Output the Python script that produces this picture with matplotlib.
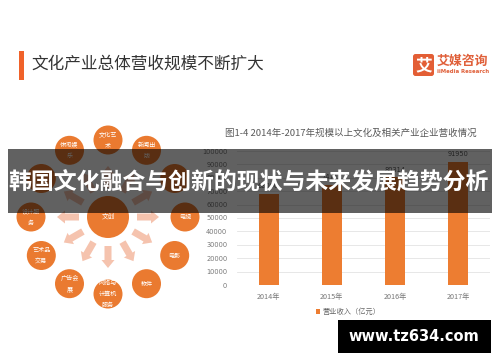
import matplotlib
matplotlib.use("Agg")
import matplotlib.pyplot as plt
from matplotlib.patches import Circle, FancyArrow, Rectangle, FancyBboxPatch
import numpy as np

CJK = ['Noto Sans CJK SC', 'DejaVu Sans']
plt.rcParams['font.family'] = CJK

# ---------------- data ----------------
years = ['2014年', '2015年', '2016年', '2017年']
revenue = [68000, 74711, 80314, 91950]
series_name = '营业收入（亿元）'
yticks = [0, 10000, 20000, 30000, 40000, 50000, 60000, 70000, 80000, 90000, 100000]

page_title = '文化产业总体营收规模不断扩大'
chart_title = '图1-4 2014年-2017年规模以上文化及相关产业企业营收情况'
banner_text = '韩国文化融合与创新的现状与未来发展趋势分析'
watermark = 'www.tz634.com'
center_label = '文创'
ring_labels = ['文化艺\n术', '新闻出\n版', '', '电视', '电影', '软件',
               '网络与\n计算机\n服务', '广告会\n展', '艺术品\n交易', '设计服\n务',
               '', '休闲娱\n乐']
ring_angles = [90, 60, 30, 0, -30, -60, -90, -120, -150, 180, 150, 120]

ORANGE = '#ED7D31'
CIRC = '#EA7A30'
ARROW = '#F5C3AE'

W, H = 500, 362
fig = plt.figure(figsize=(W / 100, H / 100), dpi=100)
fig.patch.set_facecolor('white')

# base pixel axes
base = fig.add_axes([0, 0, 1, 1], zorder=0)
base.set_xlim(0, W)
base.set_ylim(H, 0)
base.axis('off')

# page title
base.add_patch(Rectangle((19, 51), 4.5, 29, color='#F0622A', lw=0))
base.text(31, 64.5, page_title, fontsize=12.0, color='#333333', va='center', ha='left')

# logo
base.add_patch(FancyBboxPatch((413, 54), 21, 22, boxstyle='round,pad=0,rounding_size=2.5',
                              color='#E35E35', lw=0))
base.text(423.5, 65.5, '艾', fontsize=12, color='white', weight='bold', ha='center', va='center')
base.text(437, 61, '艾媒咨询', fontsize=9.3, color='#E0603A', weight='bold', ha='left', va='center')
base.text(437, 71.5, 'iiMedia Research', fontsize=3.9, color='#E0603A', weight='bold',
          ha='left', va='center', family='DejaVu Sans')

# diagram
cx, cy, R = 108, 217, 77
for ang, lab in zip(ring_angles, ring_labels):
    a = np.deg2rad(ang)
    ux, uy = np.cos(a), -np.sin(a)
    r0, r1 = 29, 51
    base.add_patch(FancyArrow(cx + ux * r0, cy + uy * r0, ux * (r1 - r0), uy * (r1 - r0),
                              width=7, head_width=13, head_length=8,
                              length_includes_head=True, color=ARROW, lw=0))
    px, py = cx + ux * R, cy + uy * R
    base.add_patch(Circle((px, py), 14.5, color=CIRC, lw=0))
    if lab:
        base.text(px, py, lab, fontsize=4.4, color='white', ha='center', va='center',
                  linespacing=1.5)
base.add_patch(Circle((cx, cy), 21, color=CIRC, lw=0))
base.text(cx, cy, center_label, fontsize=4.8, color='white', ha='center', va='center')

# chart title
base.text(351, 133, chart_title, fontsize=6.8, color='#595959', ha='center', va='center')

# ---------------- bar chart ----------------
L, R_, T, B = 237, 490, 151, 285
ax = fig.add_axes([L / W, (H - B) / H, (R_ - L) / W, (B - T) / H], zorder=1)
ax.set_facecolor('none')
x = np.arange(len(years))
bars = ax.bar(x, revenue, width=0.32, color=ORANGE, label=series_name, zorder=3)
ax.bar_label(bars, labels=[str(v) for v in revenue], padding=3.5, fontsize=4.8,
             color='#595959', family='DejaVu Sans')
ax.set_xlim(-0.5, len(years) - 0.5)
ax.set_ylim(0, 100000)
ax.set_yticks(yticks)
ax.set_yticklabels([str(v) for v in yticks], family='DejaVu Sans')
ax.set_xticks(x)
ax.set_xticklabels(years)
ax.grid(axis='y', color='#E3E3E3', lw=0.6, zorder=0)
for s in ax.spines.values():
    s.set_visible(False)
ax.axhline(0, color='#D0D0D0', lw=0.7, zorder=2)
ax.tick_params(axis='y', length=0, labelsize=4.8, labelcolor='#777777', pad=7)
ax.tick_params(axis='x', length=0, labelsize=5.2, labelcolor='#777777', pad=6)
leg = ax.legend(loc='center', bbox_to_anchor=(0.44, -0.2), frameon=False,
                handlelength=0.6, handleheight=0.6, handletextpad=0.3, fontsize=5.2)
for t in leg.get_texts():
    t.set_color('#666666')

# ---------------- overlay ----------------
ov = fig.add_axes([0, 0, 1, 1], zorder=10)
ov.set_facecolor('none')
ov.set_xlim(0, W)
ov.set_ylim(H, 0)
ov.axis('off')
ov.add_patch(Rectangle((8, 149), 484, 64, color='black', alpha=0.62, lw=0))
ov.text(248, 183, banner_text, fontsize=16.5, color='white', weight='bold',
        ha='center', va='center')
ov.add_patch(Rectangle((338, 320), 153, 33, color='black', lw=0))
ov.text(414, 336.5, watermark, fontsize=10.5, color='white', weight='bold',
        ha='center', va='center', family='DejaVu Sans')

fig.savefig('out.png', dpi=100, facecolor='white')
